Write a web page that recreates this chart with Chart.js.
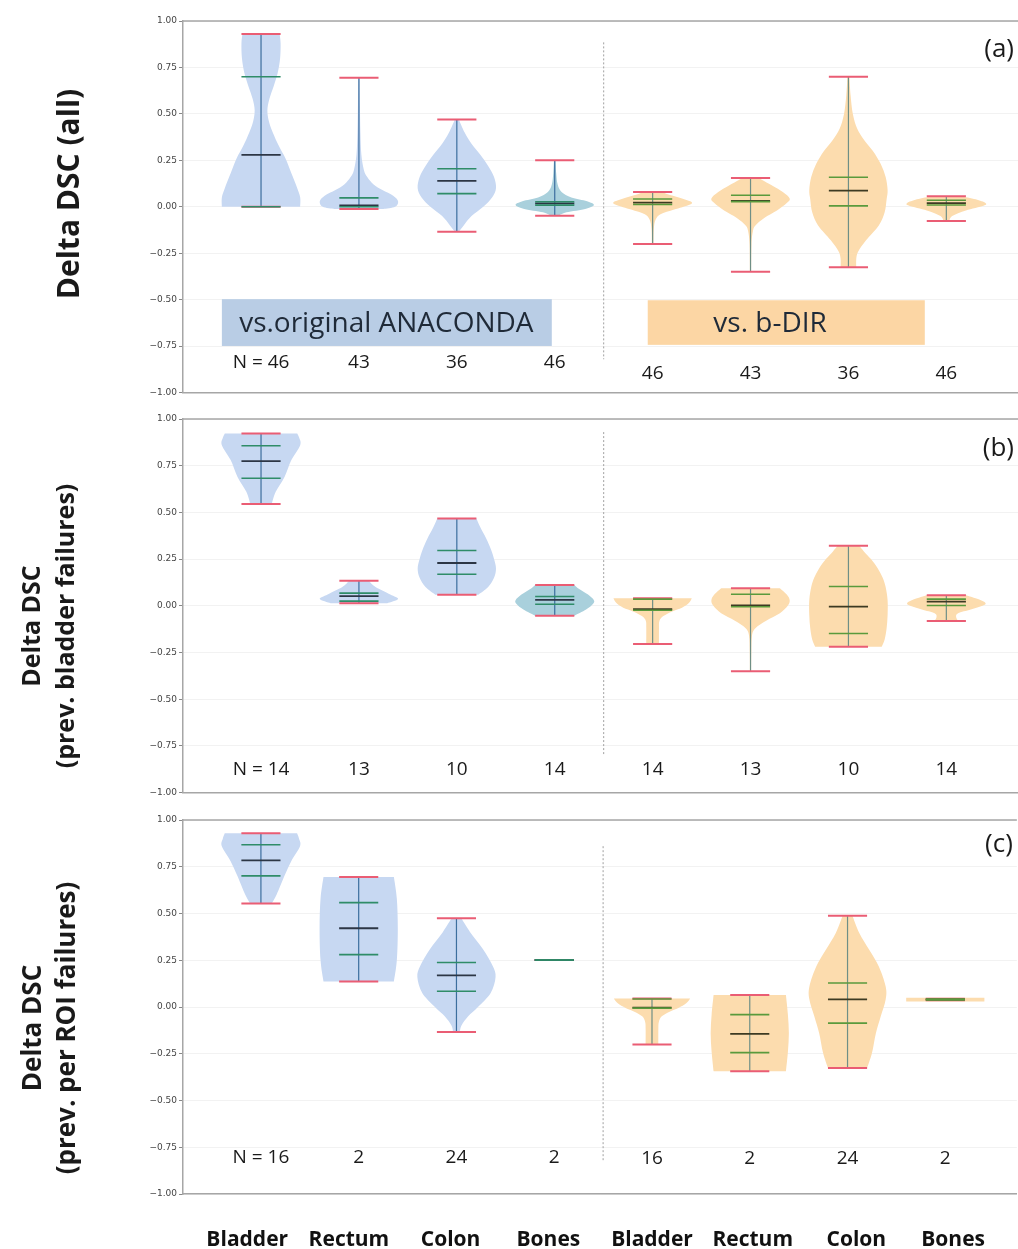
<!DOCTYPE html>
<html>
<head>
<meta charset="utf-8">
<script src="https://cdn.jsdelivr.net/npm/chart.js@4.4.1/dist/chart.umd.min.js"></script>
<style>
  body { margin: 0; background: #fff; width: 1018px; height: 1249px; overflow: hidden; }
  canvas { position: absolute; left: 0; }
</style>
</head>
<body>
<canvas id="pa" width="1018" height="400" style="top:0"></canvas>
<canvas id="pb" width="1018" height="400" style="top:400px"></canvas>
<canvas id="pc" width="1018" height="449" style="top:800px"></canvas>
<script>
// categories: 4 ROIs vs. original ANACONDA, then the same 4 vs. b-DIR
const categories = ["Bladder", "Rectum", "Colon", "Bones", "Bladder", "Rectum", "Colon", "Bones"];
const yTicks = [-1, -0.75, -0.5, -0.25, 0, 0.25, 0.5, 0.75, 1];

// (a) all
const countsA = [46, 43, 36, 46, 46, 43, 36, 46];
const minA = [0.0, -0.012, -0.134, -0.048, -0.20, -0.35, -0.326, -0.077];
const q1A  = [0.0, 0.0, 0.071, 0.009, 0.012, 0.028, 0.005, 0.01];
const medA = [0.28, 0.008, 0.139, 0.018, 0.022, 0.032, 0.087, 0.02];
const q3A  = [0.70, 0.048, 0.205, 0.027, 0.042, 0.062, 0.159, 0.035];
const maxA = [0.93, 0.695, 0.47, 0.25, 0.08, 0.155, 0.70, 0.057];

// (b) prev. bladder failures
const countsB = [14, 13, 10, 14, 14, 13, 10, 14];
const minB = [0.545, 0.014, 0.059, -0.053, -0.205, -0.351, -0.219, -0.082];
const q1B  = [0.683, 0.025, 0.169, 0.008, -0.024, -0.005, -0.148, 0.002];
const medB = [0.774, 0.052, 0.229, 0.032, -0.018, 0.002, -0.004, 0.022];
const q3B  = [0.857, 0.068, 0.296, 0.05, 0.036, 0.062, 0.103, 0.036];
const maxB = [0.923, 0.134, 0.467, 0.112, 0.041, 0.094, 0.321, 0.057];

// (c) prev. per ROI failures
const countsC = [16, 2, 24, 2, 16, 2, 24, 2];
const minC = [0.553, 0.137, -0.134, 0.251, -0.20, -0.344, -0.326, 0.036];
const q1C  = [0.701, 0.28, 0.084, 0.251, -0.006, -0.244, -0.086, 0.038];
const medC = [0.784, 0.421, 0.169, 0.251, -0.003, -0.144, 0.041, 0.04];
const q3C  = [0.868, 0.558, 0.238, 0.251, 0.043, -0.041, 0.128, 0.042];
const maxC = [0.929, 0.695, 0.474, 0.251, 0.046, 0.064, 0.488, 0.044];

// violin outlines: [value, half width in category units]
const profA = [
  [[0,0.40],[0.05,0.40],[0.1,0.37],[0.18,0.31],[0.26,0.25],[0.33,0.18],[0.4,0.12],[0.46,0.08],[0.52,0.065],[0.58,0.085],[0.65,0.13],[0.72,0.17],[0.8,0.195],[0.88,0.2],[0.93,0.19]],
  [[-0.012,0.25],[0.0,0.37],[0.03,0.40],[0.06,0.35],[0.09,0.24],[0.12,0.15],[0.16,0.085],[0.2,0.05],[0.28,0.025],[0.4,0.015],[0.55,0.01],[0.695,0.006]],
  [[-0.134,0.02],[-0.1,0.07],[-0.05,0.15],[0.0,0.27],[0.05,0.36],[0.1,0.40],[0.16,0.38],[0.22,0.32],[0.28,0.24],[0.34,0.15],[0.4,0.08],[0.47,0.02]],
  [[-0.048,0.04],[-0.03,0.12],[-0.01,0.32],[0.01,0.40],[0.03,0.33],[0.05,0.17],[0.08,0.07],[0.12,0.03],[0.18,0.015],[0.25,0.008]],
  [[-0.2,0.008],[-0.12,0.012],[-0.07,0.03],[-0.04,0.08],[-0.015,0.22],[0.01,0.37],[0.025,0.40],[0.045,0.3],[0.065,0.17],[0.08,0.1]],
  [[-0.35,0.006],[-0.2,0.01],[-0.13,0.025],[-0.1,0.05],[-0.06,0.14],[-0.02,0.27],[0.02,0.37],[0.045,0.40],[0.08,0.33],[0.115,0.22],[0.155,0.08]],
  [[-0.326,0.08],[-0.28,0.08],[-0.24,0.1],[-0.18,0.18],[-0.1,0.31],[-0.03,0.37],[0.04,0.39],[0.09,0.40],[0.16,0.38],[0.23,0.33],[0.3,0.25],[0.36,0.16],[0.42,0.09],[0.5,0.045],[0.6,0.022],[0.7,0.01]],
  [[-0.077,0.03],[-0.05,0.06],[-0.02,0.2],[0.005,0.38],[0.02,0.40],[0.04,0.3],[0.057,0.15]]
];
const profB = [
  [[0.545,0.11],[0.61,0.15],[0.69,0.24],[0.78,0.31],[0.86,0.40],[0.9,0.39],[0.923,0.37]],
  [[0.014,0.29],[0.036,0.40],[0.06,0.32],[0.1,0.17],[0.134,0.1]],
  [[0.059,0.22],[0.1,0.32],[0.15,0.38],[0.2,0.40],[0.25,0.38],[0.3,0.35],[0.36,0.3],[0.42,0.24],[0.467,0.2]],
  [[-0.053,0.2],[-0.02,0.32],[0.01,0.39],[0.03,0.40],[0.06,0.34],[0.09,0.25],[0.112,0.2]],
  [[-0.205,0.065],[-0.12,0.065],[-0.08,0.07],[-0.055,0.11],[-0.03,0.2],[-0.01,0.3],[0.015,0.37],[0.041,0.40]],
  [[-0.351,0.006],[-0.25,0.008],[-0.16,0.015],[-0.12,0.05],[-0.08,0.16],[-0.04,0.3],[0.0,0.38],[0.03,0.40],[0.06,0.37],[0.094,0.3]],
  [[-0.219,0.34],[-0.18,0.37],[-0.12,0.39],[-0.05,0.40],[0.03,0.40],[0.1,0.38],[0.15,0.35],[0.2,0.3],[0.25,0.23],[0.29,0.16],[0.321,0.11]],
  [[-0.082,0.12],[-0.06,0.1],[-0.04,0.12],[-0.02,0.25],[0.0,0.37],[0.015,0.40],[0.035,0.33],[0.057,0.2]]
];
const profC = [
  [[0.553,0.11],[0.6,0.16],[0.7,0.24],[0.78,0.31],[0.86,0.40],[0.9,0.39],[0.929,0.37]],
  [[0.137,0.36],[0.25,0.39],[0.42,0.40],[0.58,0.39],[0.695,0.36]],
  [[-0.134,0.035],[-0.1,0.05],[-0.05,0.12],[0.0,0.22],[0.075,0.35],[0.16,0.40],[0.22,0.37],[0.31,0.27],[0.4,0.14],[0.474,0.05]],
  [],
  [[-0.2,0.065],[-0.12,0.065],[-0.08,0.07],[-0.05,0.1],[-0.025,0.18],[-0.005,0.27],[0.02,0.35],[0.046,0.39]],
  [[-0.344,0.37],[-0.24,0.39],[-0.14,0.40],[-0.04,0.39],[0.064,0.37]],
  [[-0.326,0.2],[-0.246,0.25],[-0.14,0.29],[-0.05,0.34],[0.04,0.39],[0.11,0.39],[0.217,0.32],[0.307,0.22],[0.396,0.12],[0.488,0.05]],
  [[0.030,0.4],[0.050,0.4]]
];

// the bottom labels sit a little off the violin centres
const labelShift = [-0.14, -0.1, -0.06, -0.06, 0, 0.03, 0.09, 0.08];

const fillLeft = "#c7d8f2", fillBones = "#a9d0dc", fillRight = "#fcdcae";

function smoothThrough(ctx, pts) {
  for (let i = 0; i < pts.length - 1; i++) {
    const p0 = pts[i - 1] || pts[i], p1 = pts[i], p2 = pts[i + 1], p3 = pts[i + 2] || p2;
    ctx.bezierCurveTo(p1.x + (p2.x - p0.x) / 6, p1.y + (p2.y - p0.y) / 6,
                      p2.x - (p3.x - p1.x) / 6, p2.y - (p3.y - p1.y) / 6, p2.x, p2.y);
  }
}

function hline(ctx, x0, x1, yy, color, lw) {
  ctx.strokeStyle = color; ctx.lineWidth = lw;
  ctx.beginPath(); ctx.moveTo(x0, yy); ctx.lineTo(x1, yy); ctx.stroke();
}

const violinPlugin = {
  id: "violins",
  afterDraw(chart, args, o) {
    const { ctx, chartArea: a, scales: { x, y } } = chart;
    const unit = x.getPixelForValue(1) - x.getPixelForValue(0);
    ctx.save();
    // top spine
    hline(ctx, a.left, a.right, a.top, "#a6a6a6", 1.5);

    // dotted separator
    ctx.strokeStyle = "#a0a0a0"; ctx.lineWidth = 1; ctx.setLineDash([2, 2]);
    ctx.beginPath();
    ctx.moveTo(x.getPixelForValue(3.5), y.getPixelForValue(o.sep[0]));
    ctx.lineTo(x.getPixelForValue(3.5), y.getPixelForValue(o.sep[1]));
    ctx.stroke();
    ctx.setLineDash([]);

    categories.forEach((c, i) => {
      const cx = x.getPixelForValue(i);
      const prof = o.prof[i];
      if (prof.length) {
        const right = prof.map(([v, w]) => ({ x: cx + w * unit, y: y.getPixelForValue(v) }));
        const left = prof.map(([v, w]) => ({ x: cx - w * unit, y: y.getPixelForValue(v) })).reverse();
        ctx.fillStyle = i < 4 ? (c === "Bones" ? fillBones : fillLeft) : fillRight;
        ctx.beginPath();
        ctx.moveTo(left[left.length - 1].x, left[left.length - 1].y);
        ctx.lineTo(right[0].x, right[0].y);
        smoothThrough(ctx, right);
        ctx.lineTo(left[0].x, left[0].y);
        smoothThrough(ctx, left);
        ctx.closePath();
        ctx.fill();
      }
      const half = 0.2 * unit;
      const ymin = y.getPixelForValue(o.min[i]), ymax = y.getPixelForValue(o.max[i]);
      ctx.strokeStyle = i < 4 ? "#3c6e9e" : "#6f8f86"; ctx.lineWidth = 1.2;
      ctx.beginPath(); ctx.moveTo(cx, ymin); ctx.lineTo(cx, ymax); ctx.stroke();
      hline(ctx, cx - half, cx + half, ymin, "#ea5d74", 2);
      hline(ctx, cx - half, cx + half, ymax, "#ea5d74", 2);
      hline(ctx, cx - half, cx + half, y.getPixelForValue(o.med[i]), i < 4 ? "#2c3645" : "#3d3a22", 1.8);
      const qc = i < 4 ? "#2f8c68" : "#5a9a3c";
      hline(ctx, cx - half, cx + half, y.getPixelForValue(o.q1[i]), qc, 1.6);
      hline(ctx, cx - half, cx + half, y.getPixelForValue(o.q3[i]), qc, 1.6);
    });

    // annotation boxes (panel a only)
    (o.boxes || []).forEach(b => {
      const x0 = x.getPixelForValue(b.x[0]), x1 = x.getPixelForValue(b.x[1]);
      const y0 = y.getPixelForValue(b.y[0]), y1 = y.getPixelForValue(b.y[1]);
      ctx.fillStyle = b.color;
      ctx.fillRect(x0, y0, x1 - x0, y1 - y0);
      ctx.fillStyle = "#1f2a38";
      ctx.font = "28px 'Open Sans'";
      ctx.textAlign = "center"; ctx.textBaseline = "middle";
      ctx.fillText(b.text, x.getPixelForValue(b.tx), (y0 + y1) / 2 + 1);
    });

    // sample counts
    ctx.fillStyle = "#1a1a1a";
    ctx.font = "19px 'Open Sans'";
    ctx.textAlign = "center"; ctx.textBaseline = "middle";
    o.counts.forEach((n, i) => {
      const t = (i === 0 ? "N = " : "") + n;
      ctx.fillText(t, x.getPixelForValue(i), y.getPixelForValue(i < 4 ? o.nY[0] : o.nY[1]));
    });

    // panel letter
    ctx.font = "26px 'Open Sans'";
    ctx.textAlign = "right";
    ctx.fillText(o.letter, a.right - 4, a.top + o.letterDy);

    // y title
    ctx.font = "bold " + o.titleSize + "px 'Open Sans'";
    ctx.textAlign = "center";
    o.title.forEach((line, k) => {
      ctx.save();
      ctx.translate(o.titleX[k], o.titleY);
      ctx.rotate(-Math.PI / 2);
      ctx.fillText(line, 0, 0);
      ctx.restore();
    });
    ctx.restore();
  }
};

function makePanel(id, cfg) {
  const showX = !!cfg.showX;
  new Chart(document.getElementById(id), {
    type: "scatter",
    data: { datasets: [{ data: cfg.med.map((v, i) => ({ x: i, y: v })), pointRadius: 0, showLine: false }] },
    options: {
      responsive: false,
      animation: false,
      events: [],
      layout: { padding: { top: cfg.top, left: 0, right: 0, bottom: 0 } },
      plugins: { legend: { display: false }, tooltip: { enabled: false }, violins: cfg },
      scales: {
        x: {
          type: "linear", min: -0.797, max: 7.732,
          afterBuildTicks: s => { s.ticks = categories.map((c, i) => ({ value: i + labelShift[i] })); },
          afterFit: s => { s.height = cfg.xHeight; },
          grid: { display: false, drawTicks: false },
          border: { display: true, color: "#a6a6a6", width: 1.5 },
          ticks: {
            display: showX, padding: 33, maxRotation: 0, autoSkip: false,
            color: "#111", font: { family: "'Open Sans'", size: 21, weight: "bold" },
            callback: v => categories[Math.round(v)]
          }
        },
        y: {
          min: -1, max: 1,
          afterBuildTicks: s => { s.ticks = yTicks.map(v => ({ value: v })); },
          afterFit: s => { s.width = 183; },
          grid: { color: "rgba(0,0,0,0.05)", tickColor: "#888", tickLength: 4 },
          border: { display: true, color: "#a6a6a6", width: 1.5 },
          ticks: {
            padding: 2, color: "#444", font: { family: "'DejaVu Sans'", size: 9 },
            callback: v => (v < 0 ? "\u2212" : "") + Math.abs(v).toFixed(2)
          }
        }
      }
    },
    plugins: [violinPlugin]
  });
}

makePanel("pa", {
  min: minA, q1: q1A, med: medA, q3: q3A, max: maxA, prof: profA, counts: countsA,
  top: 21, xHeight: 5, sep: [0.885, -0.82], nY: [-0.84, -0.9], letter: "(a)", letterDy: 29,
  title: ["Delta DSC (all)"], titleX: [70], titleY: 194, titleSize: 30,
  boxes: [
    { x: [-0.4, 2.97], y: [-0.497, -0.749], color: "#b9cde5", text: "vs.original ANACONDA", tx: 1.28 },
    { x: [3.95, 6.78], y: [-0.503, -0.743], color: "#fcd6a4", text: "vs. b-DIR", tx: 5.2 }
  ]
});
makePanel("pb", {
  min: minB, q1: q1B, med: medB, q3: q3B, max: maxB, prof: profB, counts: countsB,
  top: 19, xHeight: 6, sep: [0.93, -0.8], nY: [-0.877, -0.877], letter: "(b)", letterDy: 30,
  title: ["Delta DSC", "(prev. bladder failures)"], titleX: [33, 67], titleY: 226, titleSize: 25
});
makePanel("pc", {
  min: minC, q1: q1C, med: medC, q3: q3C, max: maxC, prof: profC, counts: countsC,
  top: 20, xHeight: 55, sep: [0.86, -0.825], nY: [-0.807, -0.813], letter: "(c)", letterDy: 25,
  title: ["Delta DSC", "(prev. per ROI failures)"], titleX: [34, 68], titleY: 228, titleSize: 26,
  showX: true
});
</script>
</body>
</html>
